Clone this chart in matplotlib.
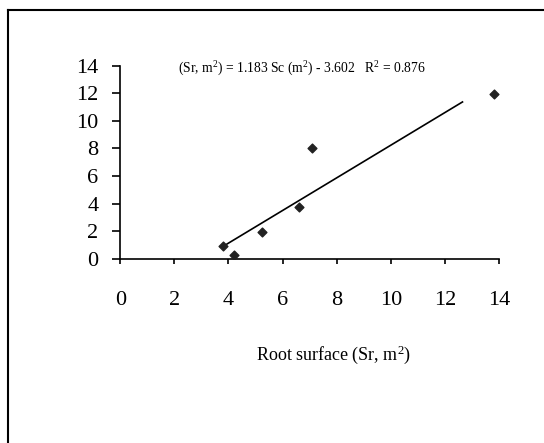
import numpy as np
import matplotlib
matplotlib.use('Agg')
import matplotlib.pyplot as plt
from matplotlib.lines import Line2D

root_surface = [3.8, 4.2, 5.25, 6.62, 7.1, 13.8]
measured = [0.92, 0.25, 1.95, 3.77, 8.0, 11.95]

slope = 1.183
intercept = -3.602
fit_range = [3.88, 12.65]

xticks = [0, 2, 4, 6, 8, 10, 12, 14]
yticks = [0, 2, 4, 6, 8, 10, 12, 14]

plt.rcParams['font.family'] = ['Liberation Serif', 'DejaVu Serif']
plt.rcParams['mathtext.fontset'] = 'custom'
plt.rcParams['mathtext.rm'] = 'Liberation Serif'
plt.rcParams['mathtext.it'] = 'Liberation Serif:italic'

fig = plt.figure(figsize=(5.44, 4.43), dpi=100)
ax = fig.add_axes([0.2211, 0.416, 0.6962, 0.436])

ax.scatter(root_surface, measured, marker='D', s=20, color='#222222', zorder=3)
xf = np.array(fit_range)
ax.plot(xf, slope * xf + intercept, color='black', lw=1.2)

ax.set_xlim(0, 14)
ax.set_ylim(0, 14)
ax.set_xticks(xticks)
ax.set_yticks(yticks)
ax.spines['top'].set_visible(False)
ax.spines['right'].set_visible(False)
ax.spines['left'].set_linewidth(1.2)
ax.spines['bottom'].set_linewidth(1.2)
ax.tick_params(axis='y', direction='out', length=5.8, width=1.2, pad=10, labelsize=16)
ax.tick_params(axis='x', direction='out', length=3.5, width=1.2, pad=20, labelsize=16)

ax.text(0.4785, 0.985, r'(Sr, m$^\mathrm{2}$) = 1.183 Sc (m$^\mathrm{2}$) - 3.602   R$^\mathrm{2}$ = 0.876',
        transform=ax.transAxes, ha='center', va='center', fontsize=9.8)
ax.text(0.562, -0.495, r'Root surface (Sr, m$^\mathrm{2}$)', transform=ax.transAxes,
        ha='center', va='center', fontsize=13)

# frame of the original picture (top and left edge only)
fig.add_artist(Line2D([0.0147, 1.0], [0.9774, 0.9774], color='black', lw=1.5))
fig.add_artist(Line2D([0.0147, 0.0147], [0.0, 0.9774], color='black', lw=1.5))

plt.savefig('out.png', dpi=100)
plt.close()
